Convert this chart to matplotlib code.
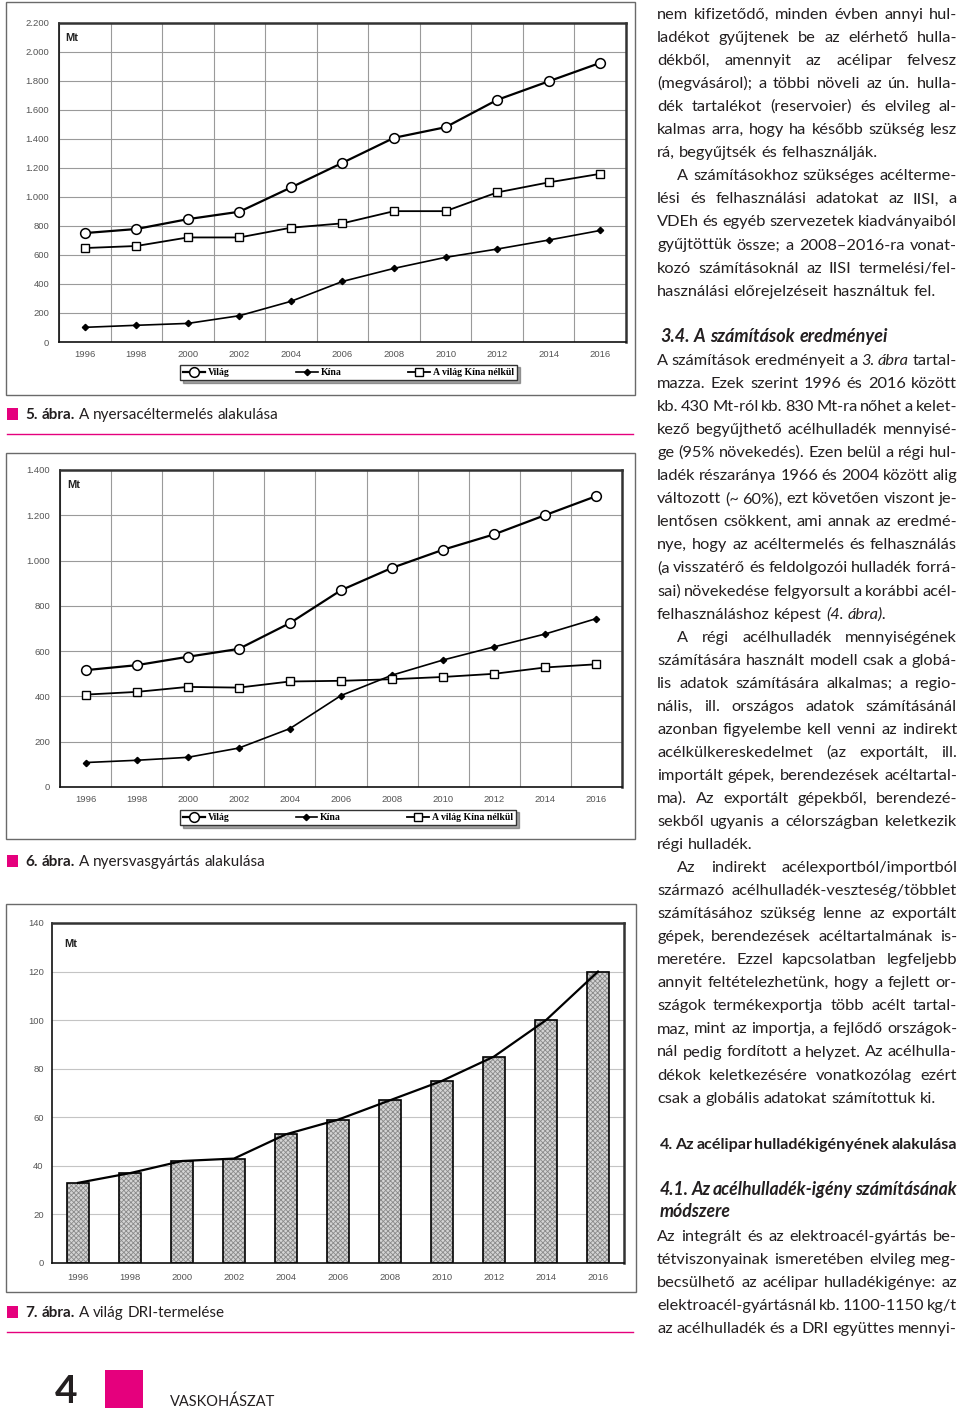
import matplotlib.pyplot as plt
import numpy as np
from matplotlib.patches import Rectangle

years = ["1996", "1998", "2000", "2002", "2004", "2006", "2008", "2010", "2012", "2014", "2016"]

# 5. abra - nyersacel (Mt)
steel_world = [750, 778, 846, 897, 1064, 1234, 1406, 1479, 1667, 1795, 1922]
steel_china = [101, 115, 128, 181, 280, 417, 507, 583, 640, 702, 768]
steel_rest = [647, 661, 720, 720, 787, 817, 901, 901, 1030, 1099, 1158]

# 6. abra - nyersvas (Mt)
iron_world = [516, 538, 575, 610, 724, 869, 968, 1048, 1116, 1201, 1285]
iron_china = [108, 118, 131, 172, 258, 404, 494, 561, 619, 676, 744]
iron_rest = [408, 420, 442, 439, 466, 469, 476, 486, 500, 528, 542]

# 7. abra - DRI (Mt)
dri = [33, 37, 42, 43, 53, 59, 67, 75, 85, 100, 120]

series_names = ["Világ", "Kína", "A világ Kína nélkül"]

W, H = 960, 1410
PINK = "#e5007d"
TXT = "#231f20"
BODY = ["Lato", "DejaVu Sans"]
CHART_FONT = "Liberation Sans"

fig = plt.figure(figsize=(W / 100, H / 100), dpi=100)


def px_axes(l, t, r, b):
    return fig.add_axes([l / W, 1 - b / H, (r - l) / W, (b - t) / H])


def px_rect(l, t, r, b, **kw):
    fig.add_artist(Rectangle((l / W, 1 - b / H), (r - l) / W, (b - t) / H,
                             transform=fig.transFigure, **kw))


def fmt(v):
    return f"{v:,.0f}".replace(",", ".")


def style_axes(ax, ymax, step, pad_y, pad_x):
    ax.set_xlim(-0.5, len(years) - 0.5)
    ax.set_ylim(0, ymax)
    ticks = np.arange(0, ymax + 1, step)
    ax.set_yticks(ticks, [fmt(v) for v in ticks])
    ax.set_xticks(np.arange(len(years)), years)
    ax.tick_params(length=0, labelsize=6.8, labelcolor="#555")
    ax.tick_params(axis="y", pad=pad_y)
    ax.tick_params(axis="x", pad=pad_x)
    for lab in ax.get_xticklabels() + ax.get_yticklabels():
        lab.set_family(CHART_FONT)
    ax.spines["top"].set(lw=1.8, color="#333")
    ax.spines["right"].set(lw=1.8, color="#333")
    ax.spines["left"].set(lw=1.2, color="#111")
    ax.spines["bottom"].set(lw=1.2, color="#111")
    ax.set_axisbelow(True)


def line_chart(box, world, china, rest, ymax, step, legend_box, mt_pos):
    ax = px_axes(*box)
    x = np.arange(len(years))
    ax.plot(x, world, "-o", color="k", lw=1.6, ms=7, mfc="white", mec="k", mew=1.1,
            label=series_names[0])
    ax.plot(x, china, "-D", color="k", lw=1.2, ms=3.2, mfc="k", mec="k",
            label=series_names[1])
    ax.plot(x, rest, "-s", color="k", lw=1.3, ms=5.5, mfc="white", mec="k", mew=1.0,
            label=series_names[2])
    style_axes(ax, ymax, step, 7, 6)
    ax.set_xticks(np.arange(-0.5, len(years)), minor=True)
    ax.tick_params(which="minor", length=0)
    ax.grid(which="minor", axis="x", color="#9a9a9a", lw=0.8)
    ax.grid(which="major", axis="y", color="#9a9a9a", lw=0.8)
    l, t, r, b = legend_box
    ax.legend(loc="center", bbox_to_anchor=(l / W, 1 - b / H, (r - l) / W, (b - t) / H),
              bbox_transform=fig.transFigure, ncol=3, mode="expand", frameon=True,
              fancybox=False, shadow=True, edgecolor="#333", borderaxespad=0,
              handlelength=2.2, handletextpad=0.3, borderpad=0.35,
              prop=dict(family="Liberation Serif", weight="bold", size=7))
    fig.text(mt_pos[0] / W, 1 - mt_pos[1] / H, "Mt", family=CHART_FONT, weight="bold",
             size=8, va="center", color="#222")
    return ax


# chart frames
px_rect(6, 2, 635, 395, fill=False, ec="#6a6a6a", lw=1)
px_rect(6, 453, 635, 839, fill=False, ec="#6a6a6a", lw=1)
px_rect(6, 904, 636, 1292, fill=False, ec="#6a6a6a", lw=1)

line_chart((59, 22.5, 626, 342), steel_world, steel_china, steel_rest, 2200, 200,
           (180, 363, 517, 382), (65, 38))
line_chart((60, 470, 622, 787), iron_world, iron_china, iron_rest, 1400, 200,
           (180, 808, 516, 827), (67, 485))

ax3 = px_axes(52, 923, 624, 1263)
x3 = np.arange(len(years))
plt.rcParams["hatch.linewidth"] = 0.6
ax3.bar(x3, dri, width=0.43, color="#d4d4d4", hatch="xxxxxxx", edgecolor="#8a8a8a", lw=0)
ax3.bar(x3, dri, width=0.43, fill=False, edgecolor="k", lw=1.2)
ax3.plot(x3, dri, color="k", lw=1.6)
style_axes(ax3, 140, 20, 6, 7)
ax3.grid(axis="y", color="#c4c4c4", lw=0.8)
fig.text(64 / W, 1 - 944 / H, "Mt", family=CHART_FONT, weight="bold", size=8,
         va="center", color="#222")

# ---- text layout helpers -------------------------------------------------
items = []


def add_line(line, x0, x1, y, size=13, weight="normal", style="normal", group="body",
             justify=None):
    indent = line.startswith("\t")
    last = line.endswith("|")
    words = line.strip("\t|").split(" ")
    if justify is None:
        justify = not last
    texts = []
    for w in words:
        st = style
        wt = weight
        if len(w) > 1 and w.startswith("_") and w.endswith("_"):
            w = w[1:-1]
            st = "italic"
        if len(w) > 1 and w.startswith("*") and w.endswith("*"):
            w = w[1:-1]
            wt = "bold"
        t = fig.text(0, 1 - (y + 5) / H, w, fontsize=size, family=BODY, style=st,
                     weight=wt, color=TXT, va="baseline")
        texts.append(t)
    items.append(dict(texts=texts, x0=x0 + (20 if indent else 0), x1=x1,
                      justify=justify, group=group, size=size))


def layout():
    fig.canvas.draw()
    rend = fig.canvas.get_renderer()
    a = fig.text(0, 0, "n n", fontsize=12, family=BODY)
    b = fig.text(0, 0, "nn", fontsize=12, family=BODY)
    sp12 = a.get_window_extent(rend).width - b.get_window_extent(rend).width
    a.remove()
    b.remove()
    # shrink groups whose lines do not fit
    scale = {}
    for it in items:
        ws = sum(t.get_window_extent(rend).width for t in it["texts"])
        sp = sp12 * it["size"] / 12
        need = ws + (len(it["texts"]) - 1) * sp * 0.6
        r = (it["x1"] - it["x0"]) / need
        scale[it["group"]] = min(scale.get(it["group"], 1.0), r)
    for it in items:
        s = min(1.0, scale[it["group"]])
        it["size"] *= s
        for t in it["texts"]:
            t.set_fontsize(it["size"])
    fig.canvas.draw()
    for it in items:
        ws = [t.get_window_extent(rend).width for t in it["texts"]]
        sp = sp12 * it["size"] / 12
        n = len(ws)
        if it["justify"] and n > 1:
            gap = (it["x1"] - it["x0"] - sum(ws)) / (n - 1)
        else:
            gap = sp
        x = it["x0"]
        for t, w in zip(it["texts"], ws):
            t.set_x(x / W)
            x += w + gap


# ---- captions ---------------------------------------------------------------
captions = [
    ("*5.* *ábra.* A nyersacéltermelés alakulása", 414),
    ("*6.* *ábra.* A nyersvasgyártás alakulása", 861),
    ("*7.* *ábra.* A világ DRI-termelése", 1312),
]
for cap, cy in captions:
    px_rect(7, cy - 6, 18, cy + 6, color=PINK, lw=0)
    add_line(cap + "|", 25, 630, cy, size=11, group="cap")
for ly in (434, 1332):
    fig.add_artist(plt.Line2D([7 / W, 633 / W], [1 - ly / H, 1 - ly / H],
                              transform=fig.transFigure, color=PINK, lw=1))

# ---- body text column ------------------------------------------------------
X0, X1 = 657, 957
STEP = 23.05

block_a = [
    "nem kifizetődő, minden évben annyi hul-",
    "ladékot gyűjtenek be az elérhető hulla-",
    "dékből, amennyit az acélipar felvesz",
    "(megvásárol); a többi növeli az ún. hulla-",
    "dék tartalékot (reservoier) és elvileg al-",
    "kalmas arra, hogy ha később szükség lesz",
    "rá, begyűjtsék és felhasználják.|",
    "\tA számításokhoz szükséges acélterme-",
    "lési és felhasználási adatokat az IISI, a",
    "VDEh és egyéb szervezetek kiadványaiból",
    "gyűjtöttük össze; a 2008–2016-ra vonat-",
    "kozó számításoknál az IISI termelési/fel-",
    "használási előrejelzéseit használtuk fel.|",
]
block_b = [
    "A számítások eredményeit a _3._ _ábra_ tartal-",
    "mazza. Ezek szerint 1996 és 2016 között",
    "kb. 430 Mt-ról kb. 830 Mt-ra nőhet a kelet-",
    "kező begyűjthető acélhulladék mennyisé-",
    "ge (95% növekedés). Ezen belül a régi hul-",
    "ladék részaránya 1966 és 2004 között alig",
    "változott (~ 60%), ezt követően viszont je-",
    "lentősen csökkent, ami annak az eredmé-",
    "nye, hogy az acéltermelés és felhasználás",
    "(a visszatérő és feldolgozói hulladék forrá-",
    "sai) növekedése felgyorsult a korábbi acél-",
    "felhasználáshoz képest _(4._ _ábra)._|",
    "\tA régi acélhulladék mennyiségének",
    "számítására használt modell csak a globá-",
    "lis adatok számítására alkalmas; a regio-",
    "nális, ill. országos adatok számításánál",
    "azonban figyelembe kell venni az indirekt",
    "acélkülkereskedelmet (az exportált, ill.",
    "importált gépek, berendezések acéltartal-",
    "ma). Az exportált gépekből, berendezé-",
    "sekből ugyanis a célországban keletkezik",
    "régi hulladék.|",
    "\tAz indirekt acélexportból/importból",
    "származó acélhulladék-veszteség/többlet",
    "számításához szükség lenne az exportált",
    "gépek, berendezések acéltartalmának is-",
    "meretére. Ezzel kapcsolatban legfeljebb",
    "annyit feltételezhetünk, hogy a fejlett or-",
    "szágok termékexportja több acélt tartal-",
    "maz, mint az importja, a fejlődő országok-",
    "nál pedig fordított a helyzet. Az acélhulla-",
    "dékok keletkezésére vonatkozólag ezért",
    "csak a globális adatokat számítottuk ki.|",
]
block_c = [
    "Az integrált és az elektroacél-gyártás be-",
    "tétviszonyainak ismeretében elvileg meg-",
    "becsülhető az acélipar hulladékigénye: az",
    "elektroacél-gyártásnál kb. 1100-1150 kg/t",
    "az acélhulladék és a DRI együttes mennyi-",
]

for i, ln in enumerate(block_a):
    add_line(ln, X0, X1, 14 + i * STEP)
for i, ln in enumerate(block_b):
    add_line(ln, X0, X1, 360 + i * STEP)
for i, ln in enumerate(block_c):
    add_line(ln, X0, X1, 1236 + i * STEP)

add_line("3.4. A számítások eredményei|", 660, X1, 337, size=13, weight="bold",
         style="italic", group="h1")
add_line("4. Az acélipar hulladékigényének alakulása", 660, X1, 1144, size=13,
         weight="bold", group="h2")
add_line("4.1. Az acélhulladék-igény számításának", 660, X1, 1190, size=13,
         weight="bold", style="italic", group="h3")
add_line("módszere|", 660, X1, 1212, size=13, weight="bold", style="italic", group="h3")

layout()

# ---- footer ------------------------------------------------------------------
fig.text(55 / W, 1 - 1403 / H, "4", family=BODY, weight="bold", size=28, color=TXT,
         va="baseline")
px_rect(105, 1370, 143, 1408, color=PINK, lw=0)
fig.text(170 / W, 1 - 1406 / H, "VASKOHÁSZAT", family=BODY, size=10.5, color=TXT,
         va="baseline")

fig.savefig("out.png", dpi=100)
